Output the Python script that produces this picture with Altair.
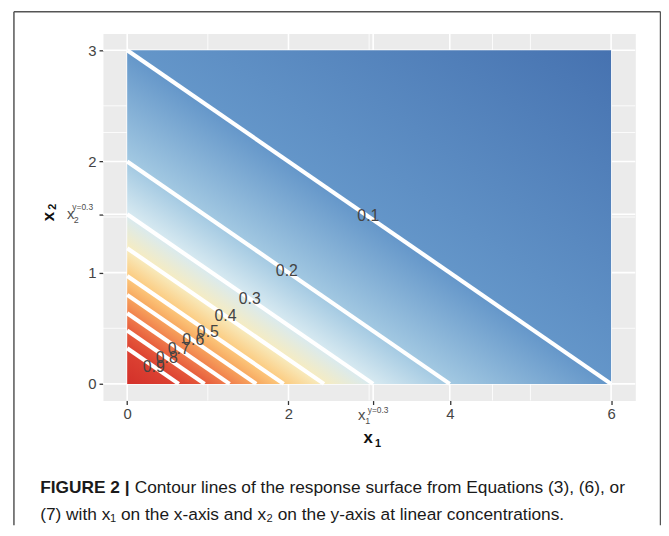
import altair as alt
import pandas as pd

# ---------------- values ----------------
levels = [0.1, 0.2, 0.3, 0.4, 0.5, 0.6, 0.7, 0.8, 0.9]
x2_intercepts = [3.0, 2.0, 1.525, 1.22, 0.97, 0.80, 0.635, 0.48, 0.32]
x1_intercepts = [6.0, 4.0, 3.05, 2.44, 1.94, 1.60, 1.27, 0.96, 0.64]
label_x1 = [2.99, 1.98, 1.52, 1.22, 1.00, 0.82, 0.64, 0.49, 0.33]
x1_limits = [0, 6]
x2_limits = [0, 3]
x1_breaks = [0, 2, 3.05, 4, 6]
x1_minor = [1, 3, 5, 4.53]
x2_breaks = [0, 1, 1.525, 2, 3]
x2_minor = [0.5, 1.5, 2.5, 2.26]
x1_special = 3.05
x2_special = 1.525

# ---------------- styles ----------------
origin_color = "#d3302a"
far_color = "#4672b0"
level_colors = ["#6496c9", "#a3c9e2", "#d8eaf1", "#f7ecc0", "#fcca7e",
                "#f7a65e", "#f07e4c", "#e65a3b", "#dc4232"]
FONT = "Liberation Sans"
CAP_FONT = "Liberation Sans"
TICK_SIZE = 15

W, H = 538, 371
xscale = alt.Scale(domain=[-0.3, 6.3], nice=False, zero=False)
yscale = alt.Scale(domain=[-0.15, 3.15], nice=False, zero=False)

xaxis = alt.Axis(
    values=x1_breaks, title=None, grid=False, domain=False, tickSize=4,
    tickColor="#333333", tickWidth=1.3, labelColor="#444444", labelFontSize=TICK_SIZE,
    labelFont=FONT, labelPadding=2,
    labelExpr="abs(datum.value - %s) < 0.01 ? '' : format(datum.value, 'd')" % x1_special)
yaxis = alt.Axis(
    values=x2_breaks, title=None, grid=False, domain=False, tickSize=4,
    tickColor="#333333", tickWidth=1.3, labelColor="#444444", labelFontSize=TICK_SIZE,
    labelFont=FONT, labelPadding=3,
    labelExpr="abs(datum.value - %s) < 0.01 ? '' : format(datum.value, 'd')" % x2_special)

# ---------------- grid ----------------
def vgrid(vals, w):
    return alt.Chart(pd.DataFrame({"v": vals})).mark_rule(color="white", strokeWidth=w).encode(
        x=alt.X("v:Q", scale=xscale, axis=xaxis))

def hgrid(vals, w):
    return alt.Chart(pd.DataFrame({"v": vals})).mark_rule(color="white", strokeWidth=w).encode(
        y=alt.Y("v:Q", scale=yscale, axis=yaxis))

grid = vgrid(x1_minor, 0.8) + vgrid(x1_breaks, 1.6) + hgrid(x2_minor, 0.8) + hgrid(x2_breaks, 1.6)

# ---------------- gradient surface ----------------
stops = [{"offset": 0.0, "color": origin_color}]
pairs = []
for a, b, col in zip(x1_intercepts, x2_intercepts, level_colors):
    off = (a / x1_limits[1] + b / x2_limits[1]) / 4.0
    pairs.append((off, col))
pairs.sort()
for off, col in pairs:
    stops.append({"offset": off, "color": col})
stops.append({"offset": 1.0, "color": far_color})

grad = {"gradient": "linear", "x1": 0, "y1": 1, "x2": 1, "y2": 0, "stops": stops}

rect_df = pd.DataFrame({"a": [x1_limits[0]], "a2": [x1_limits[1]],
                        "b": [x2_limits[0]], "b2": [x2_limits[1]]})
surface = alt.Chart(rect_df).mark_rect(fill=grad, strokeWidth=0).encode(
    x=alt.X("a:Q", scale=xscale, axis=xaxis),
    x2="a2:Q",
    y=alt.Y("b:Q", scale=yscale, axis=yaxis),
    y2="b2:Q",
)

# ---------------- contour lines ----------------
rows = []
for lv, a, b in zip(levels, x1_intercepts, x2_intercepts):
    rows.append({"level": lv, "x1": 0.0, "x2": b, "o": 0})
    rows.append({"level": lv, "x1": a, "x2": 0.0, "o": 1})
lines = alt.Chart(pd.DataFrame(rows)).mark_line(color="white", strokeWidth=4.2, strokeCap="butt").encode(
    x=alt.X("x1:Q", scale=xscale, axis=xaxis),
    y=alt.Y("x2:Q", scale=yscale, axis=yaxis),
    detail="level:N", order="o:Q")

lab_rows = []
for lv, a, b, lx in zip(levels, x1_intercepts, x2_intercepts, label_x1):
    lab_rows.append({"t": str(lv), "x1": lx, "x2": b * (1 - lx / a)})
labels = alt.Chart(pd.DataFrame(lab_rows)).mark_text(
    font=FONT, fontSize=16, color="#444444", align="center", baseline="middle").encode(
    x=alt.X("x1:Q", scale=xscale, axis=xaxis),
    y=alt.Y("x2:Q", scale=yscale, axis=yaxis),
    text="t:N")

# ---------------- free text ----------------
def txt(text, x, y, size, weight="normal", align="left", baseline="alphabetic",
        color="#4d4d4d", font=FONT, angle=0):
    kw = dict(font=font, fontSize=size, fontWeight=weight, align=align,
              baseline=baseline, color=color)
    if angle:
        kw["angle"] = angle
    return alt.Chart(pd.DataFrame({"t": [text]})).mark_text(**kw).encode(
        x=alt.value(x), y=alt.value(y), text="t:N")

# special tick labels
sp_x = (x1_special + 0.3) / 6.6 * W
sp_y = (3.15 - x2_special) / 3.3 * H
special = (
    txt("x", sp_x - 11.5, H + 20, 15, align="center") +
    txt("1", sp_x - 8, H + 24, 9) +
    txt("y=0.3", sp_x - 5.5, H + 13, 8.5) +
    txt("x", -32.5, sp_y + 5, 15, align="center") +
    txt("2", -29.5, sp_y + 9, 9) +
    txt("y=0.3", -31, sp_y - 4, 8.5)
)

titles = (
    txt("x", W / 2 - 1, H + 43, 17, weight="bold", align="center", color="#111111") +
    txt("1", W / 2 + 6, H + 47, 11, weight="bold", color="#111111") +
    txt("x", -55, 185, 17, weight="bold", align="center", baseline="middle", color="#111111", angle=270) +
    txt("2", -50, 175, 11, weight="bold", align="center", baseline="middle", color="#111111", angle=270)
)

caption = (
    txt("FIGURE 2 |", -63.5, 464, 17.5, weight="bold", color="#1a1a1a", font=CAP_FONT) +
    txt("Contour lines of the response surface from Equations (3), (6), or", 32, 464, 17.5,
        color="#1a1a1a", font=CAP_FONT) +
    txt("(7) with x\u2081 on the x-axis and x\u2082 on the y-axis at linear concentrations.",
        -63.5, 492, 17.5, color="#1a1a1a", font=CAP_FONT)
)

# ---------------- figure frame ----------------
def rule(x, x2, y, y2):
    return alt.Chart(pd.DataFrame({"k": [0]})).mark_rule(color="#555555", strokeWidth=1.5).encode(
        x=alt.value(x), x2=alt.value(x2), y=alt.value(y), y2=alt.value(y2))

frame = rule(-90, -90, -22, 497) + rule(-90, 563.5, -22, -22) + rule(563.5, 563.5, -22, 497)

chart = alt.layer(grid, surface, lines, labels, special, titles, caption, frame).properties(
    width=W, height=H,
    autosize=alt.AutoSizeParams(type="none"),
    padding={"left": 96, "top": 23, "right": 26, "bottom": 126},
    background="white",
).configure_view(fill="#ebebeb", stroke="transparent").configure_axis(
    labelFontSize=TICK_SIZE, labelFont=FONT, labelColor="#444444")

chart.save("out.html", embed_options={"renderer": "svg", "actions": False})
